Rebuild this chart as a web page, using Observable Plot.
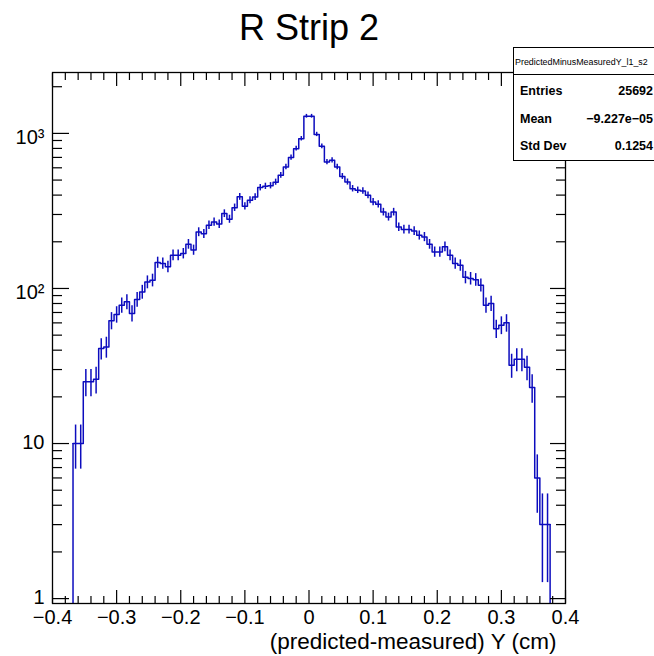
<!DOCTYPE html>
<html><head><meta charset="utf-8">
<script src="https://cdn.jsdelivr.net/npm/d3@7"></script>
<script src="https://cdn.jsdelivr.net/npm/@observablehq/plot@0.6"></script>
<style>
body{margin:0;background:#fff;overflow:hidden;}
#wrap{position:relative;width:654px;height:656px;overflow:hidden;font-family:"Liberation Sans",Arial,Helvetica,sans-serif;color:#000;}
#stats{position:absolute;left:513px;top:47px;width:150px;height:112px;border:1px solid #000;background:#fff;overflow:hidden;}
#stats .hdr{height:26px;line-height:29px;font-size:8.9px;white-space:nowrap;padding-left:1px;border-bottom:1px solid #000;letter-spacing:0px;}
#stats .row{height:27.5px;line-height:33px;font-size:12.5px;font-weight:bold;display:flex;justify-content:space-between;padding-left:6px;padding-right:11px;white-space:nowrap;}
</style></head><body><div id="wrap"></div>
<script>
const title = "R Strip 2";
const xAxisTitle = "(predicted-measured) Y (cm)";
const histName = "PredictedMinusMeasuredY_l1_s2";
const nBins = 100, xLow = -0.4, xHigh = 0.4;
const firstBin = 4;
const counts = [
  10, 10, 25, 25, 26, 41, 42, 62, 68, 78, 82, 69, 85, 95, 110, 113,
  147, 145, 138, 164, 164, 168, 193, 177, 231, 225, 256, 268, 260, 304, 280, 332,
  390, 339, 371, 389, 447, 456, 460, 485, 537, 607, 698, 797, 924,
  1290, 1290, 985,
  825, 653, 670, 607, 528, 486, 440, 430, 425, 399, 361, 349, 311, 289, 311, 249,
  240, 240, 235, 220, 215, 193, 172, 172, 186, 164, 145, 141, 118, 116, 114, 105,
  78, 80, 55, 58, 60, 32, 35, 35, 31, 23, 6, 3, 3
];
const xTicks = [-0.4, -0.3, -0.2, -0.1, 0, 0.1, 0.2, 0.3, 0.4];
const xTickLabels = ["\u22120.4", "\u22120.3", "\u22120.2", "\u22120.1", "0", "0.1", "0.2", "0.3", "0.4"];
const yTicksLow = [1, 10];
const yTicksLowLabels = ["1", "10"];
const yTicksHigh = [100, 1000];
const yTicksHighLabels = ["10\u00B2", "10\u00B3"];
const statLabels = ["Entries", "Mean", "Std Dev"];
const statValues = ["25692", "\u22129.227e\u221205", "0.1254"];
const yMin = 0.93, yMax = 2470;
const blue = "#0c0cbe";

const bw = (xHigh - xLow) / nBins;
const bins = counts.map((c, i) => ({x0: xLow + (firstBin + i) * bw, x1: xLow + (firstBin + i + 1) * bw, c}));
const last = bins[bins.length - 1];
const stepPts = bins.map(b => ({x: b.x0, y: b.c})).concat([{x: last.x1, y: last.c}]);
const yMajor = yTicksLow.concat(yTicksHigh);
const yMinor = [];
for (const d of yMajor) for (let k = 2; k <= 9; k++) if (d * k <= yMax) yMinor.push(d * k);
const xMinor = d3.range(-40, 41, 2).filter(v => v % 10 !== 0).map(v => v / 100);

const lab = (ticks, labels) => d => labels[ticks.indexOf(d)];

const plot = Plot.plot({
  width: 654, height: 656,
  marginLeft: 52, marginRight: 89, marginTop: 72, marginBottom: 53,
  x: {domain: [xLow, xHigh]},
  y: {type: "log", domain: [yMin, yMax]},
  style: {fontFamily: "'Liberation Sans', Arial, Helvetica, sans-serif", background: "white", color: "black"},
  marks: [
    Plot.line(stepPts, {x: "x", y: "y", curve: "step-after", stroke: blue, strokeWidth: 1.5}),
    Plot.ruleX([bins[0]], {x: "x0", y1: yMin, y2: "c", stroke: blue, strokeWidth: 1.5}),
    Plot.ruleX([last], {x: "x1", y1: yMin, y2: "c", stroke: blue, strokeWidth: 1.5}),
    Plot.ruleX(bins, {x: d => (d.x0 + d.x1) / 2, y1: d => d.c - Math.sqrt(d.c), y2: d => d.c + Math.sqrt(d.c), stroke: blue, strokeWidth: 1.5}),
    // x ticks (inward), bottom and top
    Plot.axisX(xTicks, {anchor: "bottom", tickSize: -13, text: null, strokeWidth: 1.2}),
    Plot.axisX(xMinor, {anchor: "bottom", tickSize: -7, text: null, strokeWidth: 1.2}),
    Plot.axisX(xTicks, {anchor: "top", tickSize: -13, text: null, strokeWidth: 1.2}),
    Plot.axisX(xMinor, {anchor: "top", tickSize: -7, text: null, strokeWidth: 1.2}),
    Plot.axisX(xTicks, {anchor: "bottom", tickSize: 0, tickPadding: 6, fontSize: 20, tickFormat: lab(xTicks, xTickLabels)}),
    // y ticks (inward), left and right
    Plot.axisY(yMajor, {anchor: "left", tickSize: -17, text: null, strokeWidth: 1.2}),
    Plot.axisY(yMinor, {anchor: "left", tickSize: -10, text: null, strokeWidth: 1.2}),
    Plot.axisY(yMajor, {anchor: "right", tickSize: -16, text: null, strokeWidth: 1.2}),
    Plot.axisY(yMinor, {anchor: "right", tickSize: -10, text: null, strokeWidth: 1.2}),
    Plot.axisY(yTicksLow, {anchor: "left", tickSize: 0, tickPadding: 8, fontSize: 20, dy: -1, tickFormat: lab(yTicksLow, yTicksLowLabels)}),
    Plot.axisY(yTicksHigh, {anchor: "left", tickSize: 0, tickPadding: 8, fontSize: 20, dy: 4, tickFormat: lab(yTicksHigh, yTicksHighLabels)}),
    Plot.frame({stroke: "black", strokeWidth: 1.3}),
    Plot.text([title], {frameAnchor: "top", dy: -58, fontSize: 36}),
    Plot.text([xAxisTitle], {frameAnchor: "bottom-right", textAnchor: "end", dx: -9, dy: 45, fontSize: 22.5})
  ]
});
const wrap = document.getElementById("wrap");
wrap.appendChild(plot);

const stats = document.createElement("div");
stats.id = "stats";
const hdr = document.createElement("div");
hdr.className = "hdr";
hdr.textContent = histName;
stats.appendChild(hdr);
statLabels.forEach((l, i) => {
  const row = document.createElement("div");
  row.className = "row";
  const a = document.createElement("span"); a.textContent = l;
  const b = document.createElement("span"); b.textContent = statValues[i];
  row.appendChild(a); row.appendChild(b);
  stats.appendChild(row);
});
wrap.appendChild(stats);
</script>
</body></html>
